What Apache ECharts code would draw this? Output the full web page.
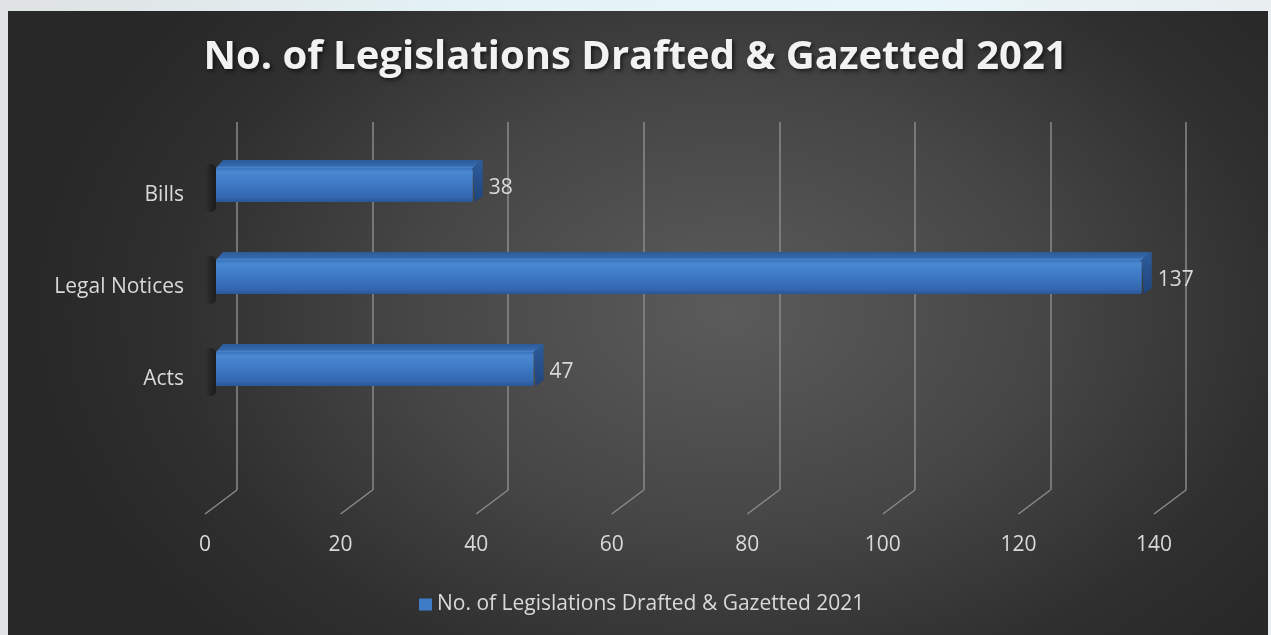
<!DOCTYPE html>
<html>
<head>
<meta charset="utf-8">
<script src="https://cdn.jsdelivr.net/npm/echarts@6/dist/echarts.min.js"></script>
<style>
  html, body { margin: 0; padding: 0; width: 1271px; height: 635px; overflow: hidden;
    background: linear-gradient(90deg, #dfe2e2 0%, #e4f3f7 40%, #e8f6fa 70%, #e9eef0 100%); }
  #panel { position: absolute; left: 8px; top: 11px; width: 1260px; height: 624px;
    background: radial-gradient(ellipse 700px 480px at 720px 300px, #5b5b5b 0%, #464646 45%, #2f2f2f 80%, #282828 100%); }
  #chart { position: absolute; left: 0; top: 0; width: 1271px; height: 635px; }
</style>
</head>
<body>
<div id="panel"></div>
<div id="chart"></div>
<script>
const titleText = 'No. of Legislations Drafted & Gazetted 2021';
const seriesName = 'No. of Legislations Drafted & Gazetted 2021';
const categories = ['Acts', 'Legal Notices', 'Bills'];
const values = [47, 137, 38];
const xTicks = [0, 20, 40, 60, 80, 100, 120, 140];
const xMin = 0, xMax = 140, xStep = 20;

const chart = echarts.init(document.getElementById('chart'), null, { renderer: 'canvas' });

const gridLineColor = '#8a8a8a';
const textColor = '#d9d9d9';
const font = 'Open Sans';

function renderBar(params, api) {
  const v = api.value(0);
  const c = api.value(1);
  const end = api.coord([v, c]);
  const start = api.coord([0, c]);
  const h = 34;
  const y0 = end[1] - h / 2, y1 = y0 + h;
  const x0 = start[0], x1 = end[0];
  const dx = 10, dy = 8, dxl = 7;
  return {
    type: 'group',
    children: [
      { type: 'rect', shape: { x: x0 - 11, y: y0 - 4, width: 11, height: h + 14, r: 5 },
        style: { fill: new echarts.graphic.LinearGradient(0, 0, 1, 0, [
          { offset: 0, color: 'rgba(0,0,0,0)' }, { offset: 1, color: 'rgba(0,0,0,0.45)' }]) }, silent: true },
      { type: 'polygon', shape: { points: [[x0, y0], [x1, y0], [x1 + dx, y0 - dy], [x0 + dxl, y0 - dy]] },
        style: { fill: new echarts.graphic.LinearGradient(0, 0, 0, 1, [
          { offset: 0, color: '#2c5a98' }, { offset: 0.7, color: '#3468ae' }, { offset: 1, color: '#4a86cf' }]) } },
      { type: 'polygon', shape: { points: [[x1, y0], [x1 + dx, y0 - dy], [x1 + dx, y1 - dy + 2], [x1 + 2, y1]] },
        style: { fill: new echarts.graphic.LinearGradient(0, 0, 0, 1, [
          { offset: 0, color: '#2d5c9c' }, { offset: 1, color: '#1f447c' }]) } },
      { type: 'rect', shape: { x: x0, y: y0, width: x1 - x0, height: h, r: [0, 2, 2, 0] },
        style: { fill: new echarts.graphic.LinearGradient(0, 0, 0, 1, [
          { offset: 0, color: '#3b74bd' }, { offset: 0.12, color: '#4a88d2' }, { offset: 0.45, color: '#3e7ac5' },
          { offset: 0.85, color: '#3368b0' }, { offset: 1, color: '#28579a' }]) } },
      { type: 'text', style: { text: String(v), x: x1 + 16, y: end[1] + 3, verticalAlign: 'middle', align: 'left',
        fill: textColor, font: '21px "Open Sans"' } }
    ]
  };
}

function renderFloor(params, api) {
  const p = api.coord([api.value(0), 0]);
  return {
    type: 'polyline',
    shape: { points: [[p[0], p[1]], [p[0] - 32, p[1] + 24]] },
    style: { stroke: gridLineColor, lineWidth: 1.5, fill: null },
    silent: true
  };
}

const option = {
  backgroundColor: 'transparent',
  animation: false,
  title: {
    text: titleText,
    left: 'center',
    top: 33,
    textStyle: { color: '#f2f2f2', fontFamily: font, fontWeight: 'bold', fontSize: 40,
      textShadowColor: 'rgba(0,0,0,0.6)', textShadowBlur: 4, textShadowOffsetX: 2, textShadowOffsetY: 2 }
  },
  legend: {
    data: [{ name: seriesName, icon: 'rect' }],
    left: 414, top: 589,
    itemWidth: 13, itemHeight: 12,
    textStyle: { color: textColor, fontFamily: font, fontSize: 21 }
  },
  grid: [
    { left: 237, width: 949, top: 122, height: 368 },
    { left: 205, width: 949, top: 122, height: 392 },
    { left: 216, width: 946, top: 139, height: 276 }
  ],
  xAxis: [
    { gridIndex: 0, type: 'value', min: xMin, max: xMax, interval: xStep,
      axisLine: { show: false }, axisTick: { show: false }, axisLabel: { show: false },
      splitLine: { show: true, lineStyle: { color: gridLineColor, width: 1.5 } } },
    { gridIndex: 1, type: 'value', min: xMin, max: xMax, interval: xStep,
      axisLine: { show: false }, axisTick: { show: false }, splitLine: { show: false },
      axisLabel: { show: true, margin: 21, color: textColor, fontFamily: font, fontSize: 21 } },
    { gridIndex: 2, type: 'value', min: xMin, max: xMax, interval: xStep, show: false }
  ],
  yAxis: [
    { gridIndex: 0, type: 'value', min: 0, max: 1, show: false },
    { gridIndex: 1, type: 'value', min: 0, max: 1, show: false },
    { gridIndex: 2, type: 'category', data: categories,
      axisLine: { show: false }, axisTick: { show: false }, splitLine: { show: false },
      axisLabel: { margin: 32, color: textColor, fontFamily: font, fontSize: 21,
        verticalAlign: 'top', lineHeight: 20 } }
  ],
  series: [
    { type: 'custom', name: '_floor', xAxisIndex: 0, yAxisIndex: 0, silent: true,
      data: xTicks.map(v => [v, 0]), renderItem: renderFloor, z: 1 },
    { type: 'custom', name: seriesName, xAxisIndex: 2, yAxisIndex: 2,
      itemStyle: { color: '#3f7cc7' },
      data: values.map((v, i) => [v, i]), encode: { x: 0, y: 1 },
      renderItem: renderBar, z: 3 }
  ]
};
chart.setOption(option);
</script>
</body>
</html>
